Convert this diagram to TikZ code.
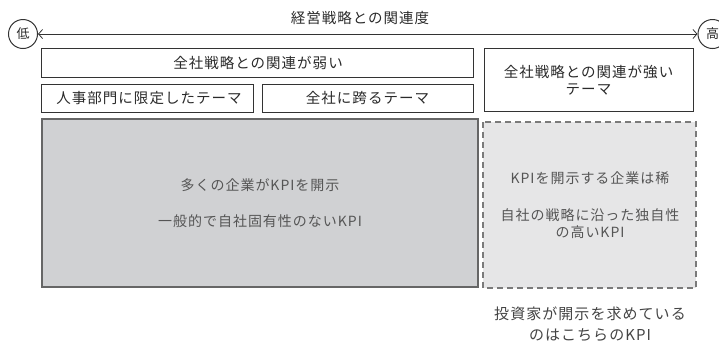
\documentclass[tikz,border=0pt]{standalone}
\usepackage{fontspec}
\setmainfont{Noto Sans CJK JP}[LetterSpace=7]
\usetikzlibrary{arrows.meta}
\definecolor{boxline}{HTML}{333333}
\definecolor{txtdark}{HTML}{2A2A2A}
\definecolor{graytxt}{HTML}{555555}
\definecolor{grayfill}{HTML}{D0D1D3}
\definecolor{grayline}{HTML}{666666}
\definecolor{lightfill}{HTML}{E6E6E7}
\definecolor{dashline}{HTML}{7A7A7A}
\tikzset{
  topbox/.style={draw=boxline, line width=1pt, fill=white, text=txtdark},
  lbl/.style={font=\fontsize{14.5}{17}\selectfont, text=txtdark, align=center, inner sep=0pt},
  inlbl/.style={font=\fontsize{14}{17}\selectfont, text=graytxt, align=center, inner sep=0pt},
  endcirc/.style={circle, draw=boxline, line width=1pt, minimum size=29pt, inner sep=0pt, font=\fontsize{13}{15}\selectfont, text=txtdark},
}
\begin{document}
\begin{tikzpicture}[x=1pt,y=-1pt]
\useasboundingbox (0,0) rectangle (719,341);
% scale endpoints
\node[endcirc] (low) at (23,34) {低};
\node[endcirc] (high) at (712.5,34) {高};
\draw[boxline, line width=0.8pt, {Straight Barb[length=4pt,width=9pt]}-{Straight Barb[length=4pt,width=9pt]}] (low.east) -- (high.west);
\node[lbl] (title) at (360,18) {経営戦略との関連度};
% top boxes
\draw[topbox] (41,48) rectangle (473,77);
\node[lbl] (weak) at (258,62.5) {全社戦略との関連が弱い};
\draw[topbox] (41,84) rectangle (253,112);
\node[lbl] (hr) at (149,98) {人事部門に限定したテーマ};
\draw[topbox] (262,84) rectangle (473,112);
\node[lbl] (cross) at (367.5,98) {全社に跨るテーマ};
\draw[topbox] (484,48) rectangle (693,111);
\node[lbl] (strong) at (588.5,80) {全社戦略との関連が強い\\[0pt]テーマ};
% gray box
\draw[fill=grayfill, draw=grayline, line width=1.6pt] (42,119) rectangle (478,287);
\node[inlbl] (many) at (260,185) {多くの企業がKPIを開示};
\node[inlbl] (general) at (260,221) {一般的で自社固有性のないKPI};
% dashed box
\draw[fill=lightfill, draw=dashline, line width=1.6pt, dash pattern=on 6pt off 4pt] (483,122) rectangle (696,288);
\node[inlbl] (rare) at (590,178) {KPIを開示する企業は稀};
\node[inlbl] (unique) at (590,224) {自社の戦略に沿った独自性\\[0pt]の高いKPI};
% bottom caption
\node[inlbl, font=\fontsize{15}{17}\selectfont, text=graytxt!80!black] (investor) at (590,324) {投資家が開示を求めている\\[4pt]のはこちらのKPI};
\end{tikzpicture}
\end{document}
